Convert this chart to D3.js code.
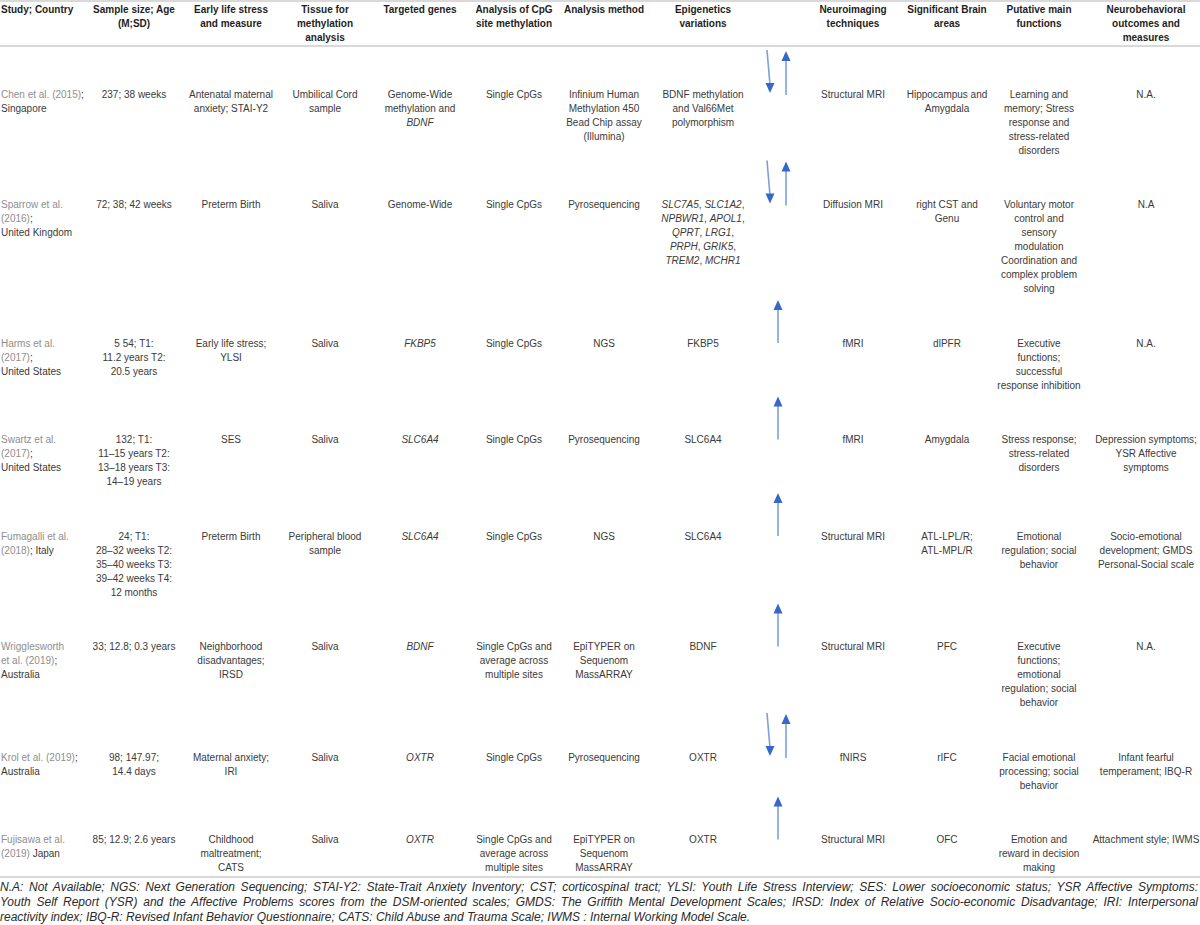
<!DOCTYPE html>
<html>
<head>
<meta charset="utf-8">
<script src="https://cdn.jsdelivr.net/npm/d3@7"></script>
<style>
    body { margin: 0; background: #fff; }
    svg { display: block; font-family: "Liberation Sans", Arial, sans-serif; }
</style>
</head>
<body>
<div id="table"></div>
<script>

// table content, one array per column; [..] = grey citation, _.._ = italic

var headers = [
    [ 'Study; Country' ],
    [ 'Sample size; Age', '(M;SD)' ],
    [ 'Early life stress', 'and measure' ],
    [ 'Tissue for', 'methylation', 'analysis' ],
    [ 'Targeted genes' ],
    [ 'Analysis of CpG', 'site methylation' ],
    [ 'Analysis method' ],
    [ 'Epigenetics', 'variations' ],
    [],
    [ 'Neuroimaging', 'techniques' ],
    [ 'Significant Brain', 'areas' ],
    [ 'Putative main', 'functions' ],
    [ 'Neurobehavioral', 'outcomes and', 'measures' ]
];

var studies = [
    [ '[Chen et al. (2015)];', 'Singapore' ],
    [ '[Sparrow et al.]', '[(2016)];', 'United Kingdom' ],
    [ '[Harms et al.]', '[(2017)];', 'United States' ],
    [ '[Swartz et al.]', '[(2017)];', 'United States' ],
    [ '[Fumagalli et al.]', '[(2018)]; Italy' ],
    [ '[Wrigglesworth]', '[et al. (2019)];', 'Australia' ],
    [ '[Krol et al. (2019)];', 'Australia' ],
    [ '[Fujisawa et al.]', '[(2019)] Japan' ]
];

var sampleAge = [
    [ '237; 38 weeks' ],
    [ '72; 38; 42 weeks' ],
    [ '5 54; T1:', '11.2 years T2:', '20.5 years' ],
    [ '132; T1:', '11–15 years T2:', '13–18 years T3:', '14–19 years' ],
    [ '24; T1:', '28–32 weeks T2:', '35–40 weeks T3:', '39–42 weeks T4:', '12 months' ],
    [ '33; 12.8; 0.3 years' ],
    [ '98; 147.97;', '14.4 days' ],
    [ '85; 12.9; 2.6 years' ]
];

var stressMeasure = [
    [ 'Antenatal maternal', 'anxiety; STAI-Y2' ],
    [ 'Preterm Birth' ],
    [ 'Early life stress;', 'YLSI' ],
    [ 'SES' ],
    [ 'Preterm Birth' ],
    [ 'Neighborhood', 'disadvantages;', 'IRSD' ],
    [ 'Maternal anxiety;', 'IRI' ],
    [ 'Childhood', 'maltreatment;', 'CATS' ]
];

var tissue = [
    [ 'Umbilical Cord', 'sample' ],
    [ 'Saliva' ],
    [ 'Saliva' ],
    [ 'Saliva' ],
    [ 'Peripheral blood', 'sample' ],
    [ 'Saliva' ],
    [ 'Saliva' ],
    [ 'Saliva' ]
];

var genes = [
    [ 'Genome-Wide', 'methylation and', '_BDNF_' ],
    [ 'Genome-Wide' ],
    [ '_FKBP5_' ],
    [ '_SLC6A4_' ],
    [ '_SLC6A4_' ],
    [ '_BDNF_' ],
    [ '_OXTR_' ],
    [ '_OXTR_' ]
];

var cpgAnalysis = [
    [ 'Single CpGs' ],
    [ 'Single CpGs' ],
    [ 'Single CpGs' ],
    [ 'Single CpGs' ],
    [ 'Single CpGs' ],
    [ 'Single CpGs and', 'average across', 'multiple sites' ],
    [ 'Single CpGs' ],
    [ 'Single CpGs and', 'average across', 'multiple sites' ]
];

var methods = [
    [ 'Infinium Human', 'Methylation 450', 'Bead Chip assay', '(Illumina)' ],
    [ 'Pyrosequencing' ],
    [ 'NGS' ],
    [ 'Pyrosequencing' ],
    [ 'NGS' ],
    [ 'EpiTYPER on', 'Sequenom', 'MassARRAY' ],
    [ 'Pyrosequencing' ],
    [ 'EpiTYPER on', 'Sequenom', 'MassARRAY' ]
];

var variations = [
    [ 'BDNF methylation', 'and Val66Met', 'polymorphism' ],
    [ '_SLC7A5_, _SLC1A2_,', '_NPBWR1_, _APOL1_,', '_QPRT_, _LRG1_,', '_PRPH_, _GRIK5_,', '_TREM2_, _MCHR1_' ],
    [ 'FKBP5' ],
    [ 'SLC6A4' ],
    [ 'SLC6A4' ],
    [ 'BDNF' ],
    [ 'OXTR' ],
    [ 'OXTR' ]
];

var directions = [ 'both', 'both', 'up', 'up', 'up', 'up', 'both', 'up' ];

var imaging = [
    [ 'Structural MRI' ],
    [ 'Diffusion MRI' ],
    [ 'fMRI' ],
    [ 'fMRI' ],
    [ 'Structural MRI' ],
    [ 'Structural MRI' ],
    [ 'fNIRS' ],
    [ 'Structural MRI' ]
];

var brainAreas = [
    [ 'Hippocampus and', 'Amygdala' ],
    [ 'right CST and', 'Genu' ],
    [ 'dlPFR' ],
    [ 'Amygdala' ],
    [ 'ATL-LPL/R;', 'ATL-MPL/R' ],
    [ 'PFC' ],
    [ 'rIFC' ],
    [ 'OFC' ]
];

var functions = [
    [ 'Learning and', 'memory; Stress', 'response and', 'stress-related', 'disorders' ],
    [ 'Voluntary motor', 'control and', 'sensory', 'modulation', 'Coordination and', 'complex problem', 'solving' ],
    [ 'Executive', 'functions;', 'successful', 'response inhibition' ],
    [ 'Stress response;', 'stress-related', 'disorders' ],
    [ 'Emotional', 'regulation; social', 'behavior' ],
    [ 'Executive', 'functions;', 'emotional', 'regulation; social', 'behavior' ],
    [ 'Facial emotional', 'processing; social', 'behavior' ],
    [ 'Emotion and', 'reward in decision', 'making' ]
];

var outcomes = [
    [ 'N.A.' ],
    [ 'N.A' ],
    [ 'N.A.' ],
    [ 'Depression symptoms;', 'YSR Affective', 'symptoms' ],
    [ 'Socio-emotional', 'development; GMDS', 'Personal-Social scale' ],
    [ 'N.A.' ],
    [ 'Infant fearful', 'temperament; IBQ-R' ],
    [ 'Attachment style; IWMS' ]
];

var footnote = [
    'N.A: Not Available; NGS: Next Generation Sequencing; STAI-Y2: State-Trait Anxiety Inventory; CST; corticospinal tract; YLSI: Youth Life Stress Interview; SES: Lower socioeconomic status; YSR Affective Symptoms:',
    'Youth Self Report (YSR) and the Affective Problems scores from the DSM-oriented scales; GMDS: The Griffith Mental Development Scales; IRSD: Index of Relative Socio-economic Disadvantage; IRI: Interpersonal',
    'reactivity index; IBQ-R: Revised Infant Behavior Questionnaire; CATS: Child Abuse and Trauma Scale; IWMS : Internal Working Model Scale.'
];

// layout

var width = 1200,
    height = 925,
    lineH = 14,
    firstY = 94,
    rowGap = 54.5;

var columns = [ studies, sampleAge, stressMeasure, tissue, genes, cpgAnalysis, methods, variations, null, imaging, brainAreas, functions, outcomes ];
var colX = [ 1, 134, 231, 325, 420, 514, 604, 703, 777, 853, 947, 1039, 1146 ];

var x = d3.scaleOrdinal()
    .domain( d3.range( columns.length ) )
    .range( colX );

// row top = first text line, stacked by the tallest cell of the row above
var rowY = [];
var y0 = firstY;
studies.forEach( function ( s, i ) {

    rowY.push( y0 );
    var n = d3.max( columns, function ( c ) { return c ? c[ i ].length : 0; } );
    y0 += ( n - 1 ) * lineH + rowGap;

});

var svg = d3.select('#table').append('svg')
    .attr('width', width)
    .attr('height', height);

// split a line into styled pieces
function pieces ( line ) {

    return line.split( /(\[[^\]]*\]|_[^_]*_)/ ).filter( function ( p ) { return p.length; } ).map( function ( p ) {

        if ( p[0] === '[' ) return { t: p.slice( 1, -1 ), grey: true };
        if ( p[0] === '_' ) return { t: p.slice( 1, -1 ), italic: true };
        return { t: p };

    });

}

function writeLine ( g, line, cx, cy, anchor ) {

    var t = g.append('text')
        .attr('x', cx)
        .attr('y', cy)
        .attr('dy', '0.35em')
        .attr('text-anchor', anchor)
        .style('font-size', '10px')
        .style('fill', '#3a3a3a');

    pieces( line ).forEach( function ( p ) {

        t.append('tspan')
            .style('fill', p.grey ? '#8e8e8e' : null)
            .style('font-style', p.italic ? 'italic' : null)
            .text( p.t );

    });

}

// rules

var rules = [ 1, 46, 877 ];

svg.selectAll('.rule')
    .data( rules )
    .enter().append('line')
    .attr('class', 'rule')
    .attr('x1', 0)
    .attr('x2', width)
    .attr('y1', function ( d ) { return d; })
    .attr('y2', function ( d ) { return d; })
    .style('stroke', '#cdcdcd')
    .style('stroke-width', 1.5);

// header

var head = svg.append('g');

headers.forEach( function ( lines, c ) {

    lines.forEach( function ( l, k ) {

        head.append('text')
            .attr('x', x( c ))
            .attr('y', 9.5 + k * lineH)
            .attr('dy', '0.35em')
            .attr('text-anchor', c === 0 ? 'start' : 'middle')
            .style('font-size', '10px')
            .style('font-weight', 'bold')
            .style('fill', '#1e1e1e')
            .text( l );

    });

});

// body cells

var body = svg.append('g');

columns.forEach( function ( col, c ) {

    if ( ! col ) return;

    col.forEach( function ( lines, r ) {

        lines.forEach( function ( l, k ) {

            writeLine( body, l, x( c ), rowY[ r ] + k * lineH, c === 0 ? 'start' : 'middle' );

        });

    });

});

// methylation direction arrows

var arrows = svg.append('g');

function arrow ( x1, yBase, x2, yTip ) {

    var dir = yTip < yBase ? 1 : -1;
    var headLen = 10, half = 4.5;

    arrows.append('line')
        .attr('x1', x1)
        .attr('y1', yBase)
        .attr('x2', x2)
        .attr('y2', yTip + dir * headLen * 0.8)
        .style('stroke', '#7ba0dc')
        .style('stroke-width', 1.6);

    arrows.append('path')
        .attr('d', 'M' + ( x2 - half ) + ',' + ( yTip + dir * headLen ) +
                   'L' + ( x2 + half ) + ',' + ( yTip + dir * headLen ) +
                   'L' + x2 + ',' + yTip + 'Z')
        .style('fill', '#3768c8');

}

directions.forEach( function ( d, r ) {

    var y = rowY[ r ];

    if ( d === 'both' ) {

        arrow( 767, y - 44, 770, y - 1 );
        arrow( 786, y + 1, 786, y - 43 );

    } else {

        arrow( x( 8 ) + 1, y, x( 8 ) + 1, y - 43 );

    }

});

// footnote, justified across the page

var notes = svg.append('g');

footnote.forEach( function ( l, k ) {

    var t = notes.append('text')
        .attr('x', 0)
        .attr('y', 887 + k * 15)
        .attr('dy', '0.35em')
        .style('font-size', '12px')
        .style('font-style', 'italic')
        .style('fill', '#2a2a2a')
        .text( l );

    if ( k < footnote.length - 1 ) {

        var w = t.node().getComputedTextLength();
        var spaces = l.split(' ').length - 1;
        t.style('word-spacing', ( ( width - 2 - w ) / spaces ) + 'px');

    }

});

</script>
</body>
</html>
